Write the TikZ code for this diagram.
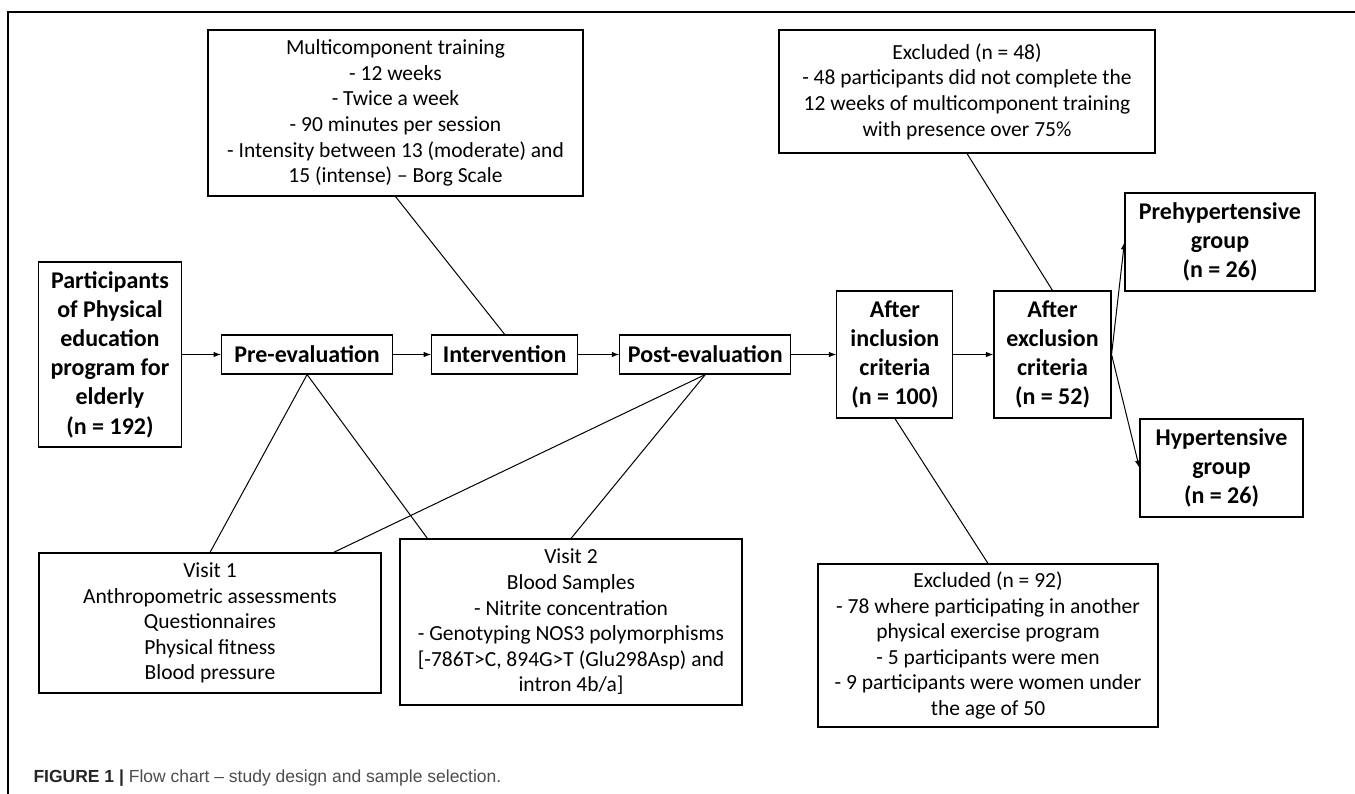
\documentclass[tikz,border=0pt]{standalone}
\usepackage{fontspec}
\setmainfont{Carlito}
\newfontfamily\capfont[Ligatures=TeX]{Liberation Sans}
\usepackage{xcolor}
\usepackage{tikz}
\usetikzlibrary{positioning}
\usetikzlibrary{arrows.meta}
\tikzset{edge/.style = {->,> = {Latex[length=7.5pt,width=5.5pt]}}}

\begin{document}
\begin{tikzpicture}[x=1pt,y=-1pt,line width=1pt,
    text box/.style={draw,line width=1.1pt,inner sep=0pt,align=center,font=\fontsize{21.5}{25.6}\selectfont},
    main node/.style={draw,line width=1.1pt,inner sep=0pt,align=center,font=\fontsize{24}{29.2}\selectfont\bfseries}]
\useasboundingbox (0,0) rectangle (1355,794);
% frame
\draw[line width=1.4pt] (8,794) -- (8,12) -- (1355,12);

% main row
\node[main node,minimum width=143pt,minimum height=185pt] (part) at (110,354.5) {Participants\\of Physical\\education\\program for\\elderly\\(n = 192)};
\node[main node,minimum width=171pt,minimum height=39pt] (pre) [right=39pt of part] {Pre-evaluation};
\node[main node,minimum width=146pt,minimum height=39pt] (interv) [right=38pt of pre] {Intervention};
\node[main node,minimum width=171pt,minimum height=39pt] (post) [right=41pt of interv] {Post-evaluation};
\node[main node,minimum width=116pt,minimum height=127pt] (incl) [right=45pt of post] {After\\inclusion\\criteria\\(n = 100)};
\node[main node,minimum width=117pt,minimum height=127pt] (excl) [right=40pt of incl] {After\\exclusion\\criteria\\(n = 52)};
\node[main node,minimum width=190pt,minimum height=98pt] (prehyp) at (1220,242) {Prehypertensive\\group\\(n = 26)};
\node[main node,minimum width=163pt,minimum height=98pt] (hyp) at (1221.5,468) {Hypertensive\\group\\(n = 26)};

% side boxes
\node[text box,minimum width=375pt,minimum height=166pt] (multi) at (395.5,113) {Multicomponent training\\- 12 weeks\\- Twice a week\\- 90 minutes per session\\- Intensity between 13 (moderate) and\\15 (intense) -- Borg Scale};
\node[text box,minimum width=376pt,minimum height=123pt] (ex48) at (967,91.5) {Excluded (n = 48)\\- 48 participants did not complete the\\12 weeks of multicomponent training\\with presence over 75\%};
\node[text box,minimum width=342pt,minimum height=140pt] (visit1) at (210,623) {Visit 1\\Anthropometric assessments\\Questionnaires\\Physical fitness\\Blood pressure};
\node[text box,minimum width=342pt,minimum height=166pt] (visit2) at (571,622) {Visit 2\\Blood Samples\\- Nitrite concentration\\- Genotyping NOS3 polymorphisms\\{[-786T>C, 894G>T (Glu298Asp) and}\\intron 4b/a]};
\node[text box,minimum width=340pt,minimum height=163pt] (ex92) at (988,645.5) {Excluded (n = 92)\\- 78 where participating in another\\physical exercise program\\- 5 participants were men\\- 9 participants were women under\\the age of 50};

% arrows
\path[edge] (part) edge (pre);
\path[edge] (pre) edge (interv);
\path[edge] (interv) edge (post);
\path[edge] (post) edge (incl);
\path[edge] (incl) edge (excl);
\path[edge] (excl.east) edge (prehyp.west);
\path[edge] (excl.east) edge (hyp.west);

% plain lines
\draw (multi.south) -- (interv.north);
\draw (ex48.south) -- (excl.north);
\draw (pre.south) -- (visit1.north);
\draw (pre.south) -- ([xshift=28pt]visit2.north west);
\draw (post.south) -- ([xshift=-48pt]visit1.north east);
\draw (post.south) -- (visit2.north);
\draw (incl.south) -- (ex92.north);

% caption
\node[anchor=west,inner sep=0pt,font=\capfont\fontsize{17.5}{21}\selectfont] (caption) at (33,778) {\textcolor{black!85}{\textbf{FIGURE 1} \textbf{|}} \textcolor{black!70}{Flow chart -- study design and sample selection.}};
\end{tikzpicture}
\end{document}
